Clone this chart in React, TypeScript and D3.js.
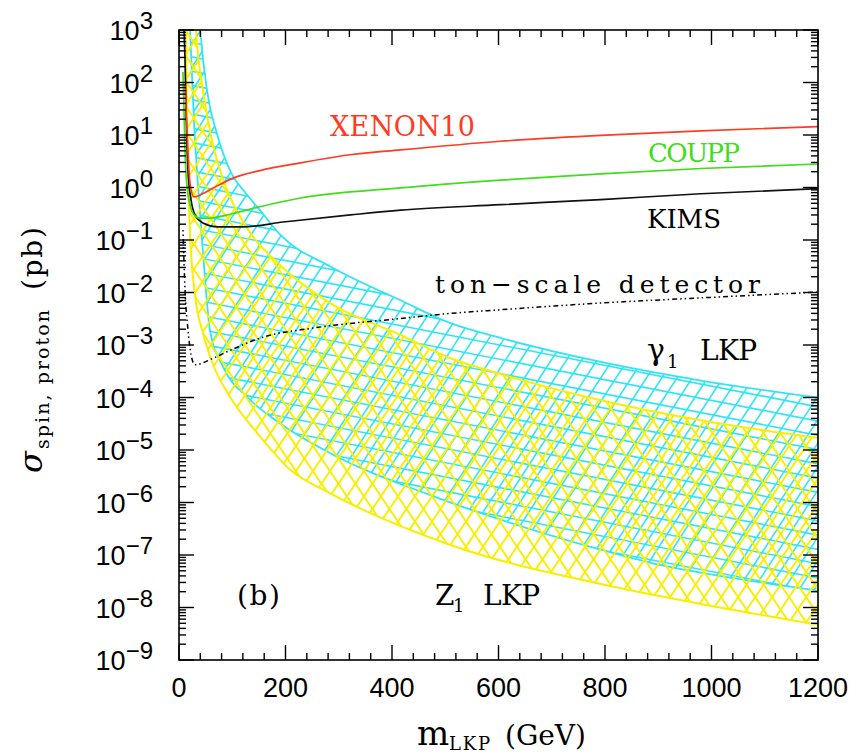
"use client";

import React, { useEffect, useRef } from "react";
import * as d3 from "d3";

// axis ticks
const massTicks = [0, 200, 400, 600, 800, 1000, 1200];
const decadeExponents = [3, 2, 1, 0, -1, -2, -3, -4, -5, -6, -7, -8, -9];

// gamma_1 LKP band (cyan): upper and lower edges, sigma in pb
const gammaHighMass = [35, 40, 53, 72, 96, 124, 152, 190, 285, 415, 510, 605, 790, 980, 1200];
const gammaHighSigma = [6e3, 1e3, 66, 10, 2.1, 0.81, 0.37, 0.126, 0.031, 7.2e-3, 2.6e-3, 1.35e-3, 4.8e-4, 2.1e-4, 1.0e-4];
const gammaLowMass = [17, 20.7, 28, 37.6, 49, 58, 83, 128, 190, 284, 472, 604, 792, 886, 980, 1200];
const gammaLowSigma = [1e4, 1e3, 19.5, 0.575, 0.0174, 1.95e-3, 3.8e-4, 1.02e-4, 3.2e-5, 8.7e-6, 1.38e-6, 4.7e-7, 1.26e-7, 7.1e-8, 4.6e-8, 2.1e-8];

// Z_1 LKP band (yellow)
const zHighMass = [27, 32, 45, 62, 86.5, 124, 190, 284, 416, 510, 604, 792, 980, 1200];
const zHighSigma = [1e4, 1e3, 72, 7.9, 1.12, 0.195, 0.033, 6.3e-3, 1.55e-3, 5.6e-4, 2.8e-4, 8.9e-5, 3.7e-5, 1.7e-5];
const zLowMass = [12, 13.2, 15, 20.7, 30.1, 45, 62, 96, 147, 209, 284, 510, 792, 980, 1200];
const zLowSigma = [1e4, 1e3, 22, 0.135, 8.9e-3, 1.7e-3, 4.8e-4, 1.02e-4, 2.1e-5, 4.2e-6, 1.5e-6, 1.55e-7, 2.8e-8, 1.17e-8, 4.7e-9];

// experimental limits
const xenonMass = [11.3, 15, 18.8, 22.6, 28.2, 39.5, 67.7, 101.6, 152, 228, 322, 416, 604, 792, 980, 1200];
const xenonSigma = [89, 12.6, 2.1, 0.89, 0.66, 0.72, 1.02, 1.51, 2.1, 2.95, 4.2, 5.2, 7.6, 9.8, 12, 14.5];
const couppMass = [7.5, 9.4, 11.3, 15, 20.7, 26.3, 39.5, 52.7, 101.6, 152, 228, 416, 604, 792, 980, 1200];
const couppSigma = [158, 30, 5.1, 1.02, 0.47, 0.32, 0.26, 0.26, 0.32, 0.43, 0.63, 0.98, 1.38, 1.82, 2.3, 2.8];
const kimsMass = [9.4, 11.3, 13.2, 16.9, 22.6, 30.1, 45, 72, 120, 196, 322, 416, 604, 792, 980, 1200];
const kimsSigma = [1e3, 270, 30, 2.1, 0.58, 0.3, 0.21, 0.178, 0.178, 0.22, 0.3, 0.37, 0.47, 0.59, 0.76, 0.95];
const tonMass = [7.5, 11.3, 16.9, 22.6, 30.1, 63.9, 95.9, 158, 252, 416, 510, 604, 792, 980, 1200];
const tonSigma = [0.155, 0.0112, 1.95e-3, 6.5e-4, 4.2e-4, 5.6e-4, 7.9e-4, 1.41e-3, 2.1e-3, 3.2e-3, 4.0e-3, 4.7e-3, 6.3e-3, 7.9e-3, 0.0102];

const CYAN = "#2fe5f5";
const YELLOW = "#f8ef00";
const RED = "#ff3b22";
const GREEN = "#40dd1c";
const SERIF = "DejaVu Serif, serif";
const SANS = "Liberation Sans, Arial, sans-serif";

const App: React.FC = () => {
  const ref = useRef<SVGSVGElement>(null);

  useEffect(() => {
    if (!ref.current) return;
    const W = 857, H = 754;
    const left = 179, right = 818, top = 30, bottom = 660;

    const svg = d3.select(ref.current);
    svg.selectAll("*").remove();

    const x = d3.scaleLinear().domain([0, 1200]).range([left, right]);
    const y = d3.scaleLog().domain([1e-9, 1e3]).range([bottom, top]);

    const line = d3
      .line<[number, number]>()
      .x((d) => x(d[0]))
      .y((d) => y(d[1]))
      .curve(d3.curveMonotoneX);
    const pts = (ms: number[], ss: number[]) => ms.map((m, i) => [m, ss[i]] as [number, number]);

    const bandPath = (hm: number[], hs: number[], lm: number[], ls: number[]) => {
      const hi = line(pts(hm, hs)) as string;
      const lo = line(pts(lm, ls).reverse()) as string;
      return hi + "L" + lo.slice(1) + "Z";
    };

    const defs = svg.append("defs");
    defs.append("clipPath").attr("id", "plot").append("rect")
      .attr("x", left).attr("y", top).attr("width", right - left).attr("height", bottom - top);
    defs.append("clipPath").attr("id", "cyanBand").append("path")
      .attr("d", bandPath(gammaHighMass, gammaHighSigma, gammaLowMass, gammaLowSigma));
    defs.append("clipPath").attr("id", "yellowBand").append("path")
      .attr("d", bandPath(zHighMass, zHighSigma, zLowMass, zLowSigma));

    const plot = svg.append("g").attr("clip-path", "url(#plot)");

    // straight hatch lines, clipped to a band
    const hatch = (g: d3.Selection<SVGGElement, unknown, null, undefined>, angle: number, gap: number, color: string, w: number) => {
      const a = (angle * Math.PI) / 180;
      const dx = Math.cos(a), dy = -Math.sin(a);
      const nx = -dy, ny = dx;
      const cx = 500, cy = 345, R = 900;
      const n = Math.ceil(R / gap);
      for (let k = -n; k <= n; k++) {
        const ox = cx + nx * k * gap, oy = cy + ny * k * gap;
        g.append("line")
          .attr("x1", ox - dx * R).attr("y1", oy - dy * R)
          .attr("x2", ox + dx * R).attr("y2", oy + dy * R)
          .attr("stroke", color).attr("stroke-width", w);
      }
    };

    const cyanG = plot.append("g").attr("clip-path", "url(#cyanBand)");
    hatch(cyanG, -11, 14, CYAN, 1.6);
    hatch(cyanG, 57, 12.8, CYAN, 1.6);
    [pts(gammaHighMass, gammaHighSigma), pts(gammaLowMass, gammaLowSigma)].forEach((p) =>
      plot.append("path").attr("d", line(p)).attr("fill", "none").attr("stroke", CYAN).attr("stroke-width", 1.8)
    );

    const yellowG = plot.append("g").attr("clip-path", "url(#yellowBand)");
    hatch(yellowG, 56, 14.1, YELLOW, 1.9);
    hatch(yellowG, -56, 14.1, YELLOW, 1.9);
    [pts(zHighMass, zHighSigma), pts(zLowMass, zLowSigma)].forEach((p) =>
      plot.append("path").attr("d", line(p)).attr("fill", "none").attr("stroke", YELLOW).attr("stroke-width", 2)
    );

    const curves: [number[], number[], string, string | null][] = [
      [tonMass, tonSigma, "#000", "1.5,3,1.5,3,5,3"],
      [kimsMass, kimsSigma, "#111", null],
      [couppMass, couppSigma, GREEN, null],
      [xenonMass, xenonSigma, RED, null],
    ];
    curves.forEach(([m, s, c, dash]) => {
      const p = plot.append("path").attr("d", line(pts(m, s))).attr("fill", "none")
        .attr("stroke", c).attr("stroke-width", dash ? 1.5 : 1.7);
      if (dash) p.attr("stroke-dasharray", dash);
    });

    // frame
    svg.append("rect").attr("x", left).attr("y", top).attr("width", right - left).attr("height", bottom - top)
      .attr("fill", "none").attr("stroke", "#000").attr("stroke-width", 1.6);

    const ticks = svg.append("g").attr("stroke", "#000").attr("stroke-width", 1.4);
    d3.range(0, 1201, 40).forEach((v) => {
      const len = v % 200 === 0 ? 15 : 7;
      ticks.append("line").attr("x1", x(v)).attr("x2", x(v)).attr("y1", bottom).attr("y2", bottom - len);
      ticks.append("line").attr("x1", x(v)).attr("x2", x(v)).attr("y1", top).attr("y2", top + len);
    });
    decadeExponents.forEach((e) => {
      for (let k = 1; k <= 9; k++) {
        const v = k * Math.pow(10, e);
        if (v > 1e3 * 1.0001) continue;
        const len = k === 1 ? 15 : 7;
        ticks.append("line").attr("x1", left).attr("x2", left + len).attr("y1", y(v)).attr("y2", y(v));
        ticks.append("line").attr("x1", right).attr("x2", right - len).attr("y1", y(v)).attr("y2", y(v));
      }
    });

    // tick labels
    massTicks.forEach((v) => {
      svg.append("text").attr("x", x(v)).attr("y", 697).attr("text-anchor", "middle")
        .attr("font-family", SANS).attr("font-size", 27).text(String(v));
    });
    decadeExponents.forEach((e) => {
      const t = svg.append("text").attr("x", 153).attr("y", y(Math.pow(10, e)) + 10)
        .attr("text-anchor", "end").attr("font-family", SANS).attr("font-size", 27);
      t.append("tspan").text("10");
      t.append("tspan").attr("dy", -11).attr("font-size", 24).text(e < 0 ? "\u2212" + Math.abs(e) : String(e));
    });

    // axis titles
    const xt = svg.append("text").attr("font-family", SERIF).attr("y", 745);
    xt.append("tspan").attr("x", 417).attr("font-size", 34).text("m");
    xt.append("tspan").attr("x", 449).attr("dy", 5).attr("font-size", 18)
      .attr("textLength", 41).attr("lengthAdjust", "spacing").text("LKP");
    xt.append("tspan").attr("x", 505).attr("dy", -5).attr("font-size", 28).text("(GeV)");

    const yt = svg.append("text").attr("font-family", SERIF).attr("transform", "translate(42,473) rotate(-90)");
    yt.append("tspan").attr("x", 0).attr("y", 0).attr("font-size", 32).attr("font-style", "italic").text("σ");
    yt.append("tspan").attr("x", 24).attr("dy", 7).attr("font-size", 19)
      .attr("textLength", 139).attr("lengthAdjust", "spacing").text("spin, proton");
    yt.append("tspan").attr("x", 183).attr("dy", -7).attr("font-size", 28)
      .attr("textLength", 63).attr("lengthAdjust", "spacing").text("(pb)");

    // annotations
    const label = (txt: string, px: number, py: number, size: number, color: string, width?: number) => {
      const t = svg.append("text").attr("x", px).attr("y", py).attr("font-family", SERIF)
        .attr("font-size", size).attr("fill", color).text(txt);
      if (width) t.attr("textLength", width).attr("lengthAdjust", "spacing");
      return t;
    };
    label("XENON10", 330, 136, 27, RED, 145);
    label("COUPP", 648, 162, 26, GREEN, 92);
    label("KIMS", 647, 228, 26, "#000", 74);
    label("ton\u2212scale detector", 435, 293, 25, "#000", 325);
    label("γ", 647, 360, 30, "#000");
    label("1", 667, 368, 18, "#000");
    label("LKP", 700, 360, 28, "#000", 57);
    label("(b)", 237, 605, 28, "#000", 43);
    label("Z", 435, 605, 28, "#000");
    label("1", 453, 612, 18, "#000");
    label("LKP", 483, 605, 28, "#000", 57);

    svg.attr("width", W).attr("height", H);
  }, []);

  return (
    <svg
      ref={ref}
      width={857}
      height={754}
      style={{ position: "absolute", left: 0, top: 0, background: "#fff" }}
    />
  );
};

export default App;
